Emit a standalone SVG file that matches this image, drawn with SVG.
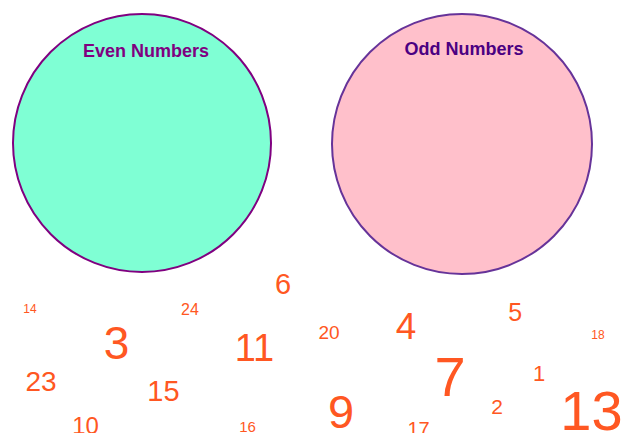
<svg xmlns="http://www.w3.org/2000/svg" width="622" height="433" viewBox="0 0 622 433">
  <style>
    .lbl { font-family: "Liberation Sans", Arial, sans-serif; font-weight: bold; font-size: 18px; text-anchor: middle; }
    .num { font-family: "Liberation Sans", Arial, sans-serif; fill: #FF5722; text-anchor: middle; }
  </style>
  <rect width="622" height="433" fill="#ffffff"/>
  <g id="even-set">
    <circle cx="142" cy="143" r="129" fill="#7FFFD4" stroke="#800080" stroke-width="2"/>
    <text class="lbl" x="146" y="57" fill="#800080">Even Numbers</text>
  </g>
  <g id="odd-set">
    <circle cx="462" cy="144" r="130" fill="#FFC0CB" stroke="#663399" stroke-width="2"/>
    <text class="lbl" x="464" y="55" fill="#4B0082">Odd Numbers</text>
  </g>
  <g id="connectors"></g>
  <g id="numbers">
    <g id="n14"><text class="num" x="30" y="312.5" font-size="12">14</text></g>
    <g id="n24"><text class="num" x="190" y="315" font-size="16">24</text></g>
    <g id="n6"><text class="num" x="283" y="294" font-size="29">6</text></g>
    <g id="n3"><text class="num" x="116.5" y="359" font-size="46">3</text></g>
    <g id="n11"><text class="num" x="254.5" y="361" font-size="38">11</text></g>
    <g id="n20"><text class="num" x="329" y="339" font-size="19">20</text></g>
    <g id="n4"><text class="num" x="406" y="339" font-size="37">4</text></g>
    <g id="n5"><text class="num" x="515.3" y="321" font-size="25">5</text></g>
    <g id="n18"><text class="num" x="598" y="339" font-size="12">18</text></g>
    <g id="n23"><text class="num" x="41" y="391" font-size="28">23</text></g>
    <g id="n15"><text class="num" x="163.5" y="401" font-size="29">15</text></g>
    <g id="n7"><text class="num" x="450" y="396" font-size="56">7</text></g>
    <g id="n1"><text class="num" x="539" y="381" font-size="22">1</text></g>
    <g id="n9"><text class="num" x="341" y="427.5" font-size="47">9</text></g>
    <g id="n2"><text class="num" x="497" y="413.5" font-size="21">2</text></g>
    <g id="n13"><text class="num" x="591.5" y="429.5" font-size="56">13</text></g>
    <g id="n10"><text class="num" x="85.5" y="434" font-size="24">10</text></g>
    <g id="n16"><text class="num" x="247.5" y="432" font-size="15">16</text></g>
    <g id="n17"><text class="num" x="418.5" y="436" font-size="20">17</text></g>
  </g>
</svg>
